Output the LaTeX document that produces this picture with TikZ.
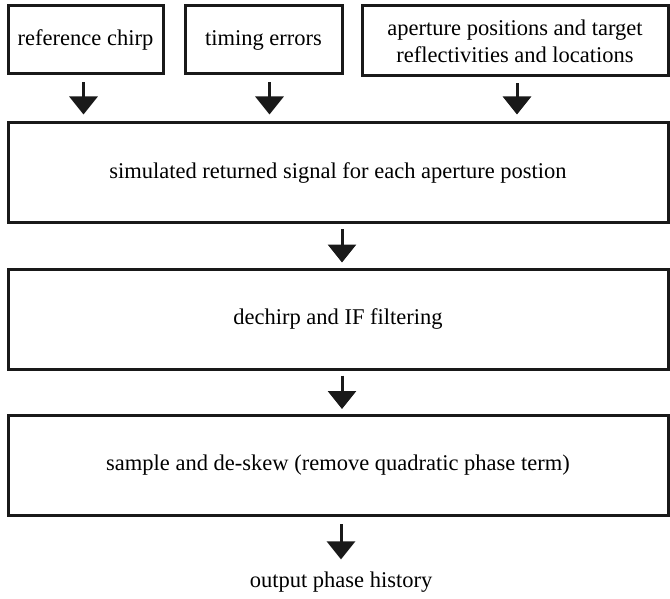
\documentclass[tikz,border=0pt]{standalone}
\usepackage{fontspec}
\setmainfont{Liberation Serif}
\usetikzlibrary{arrows.meta}
\begin{document}
\begin{tikzpicture}[x=0.5pt,y=-0.5pt,font=\fontsize{11.25}{13.5}\selectfont]
  \tikzstyle{box}=[draw=black!90,line width=1.5pt,inner sep=0pt,align=center]
  \tikzstyle{flow}=[draw=black!90,line width=1.5pt,-{Triangle[width=14pt,length=9pt]}]
  \useasboundingbox (0,0) rectangle (670,599);
  % inputs
  \node[box,minimum width=77.5pt,minimum height=34pt] (chirp) at (85.5,40) {reference chirp};
  \node[box,minimum width=78.5pt,minimum height=34pt] (timing) at (263.5,40) {timing errors};
  \node[box,minimum width=153pt,minimum height=35pt] (aperture) at (515,41)
    {aperture positions and target\\reflectivities and locations};
  % processing chain
  \node[box,minimum width=330pt,minimum height=50pt] (sim) at (338,173)
    {simulated returned signal for each aperture postion};
  \node[box,minimum width=330pt,minimum height=50pt] (dechirp) at (338,319)
    {dechirp and IF filtering};
  \node[box,minimum width=330pt,minimum height=50pt] (deskew) at (338,465.5)
    {sample and de-skew (remove quadratic phase term)};
  \node[inner sep=0pt] (out) at (341,582) {output phase history};
  % connectors
  \draw[flow,shorten <=3.5pt,shorten >=3.5pt] ([xshift=-1pt]chirp.south) -- ([xshift=-1pt]chirp.south |- sim.north);
  \draw[flow,shorten <=3.5pt,shorten >=3.5pt] ([xshift=3pt]timing.south) -- ([xshift=3pt]timing.south |- sim.north);
  \draw[flow,shorten <=3pt,shorten >=3.5pt] ([xshift=1pt]aperture.south) -- ([xshift=1pt]aperture.south |- sim.north);
  \draw[flow,shorten <=2.5pt,shorten >=2.5pt] ([xshift=2pt]sim.south) -- ([xshift=2pt]dechirp.north);
  \draw[flow,shorten <=2.5pt,shorten >=2.5pt] ([xshift=2pt]dechirp.south) -- ([xshift=2pt]deskew.north);
  \draw[flow,shorten <=3.5pt,shorten >=6pt] (out.north |- deskew.south) -- (out.north);
\end{tikzpicture}
\end{document}
